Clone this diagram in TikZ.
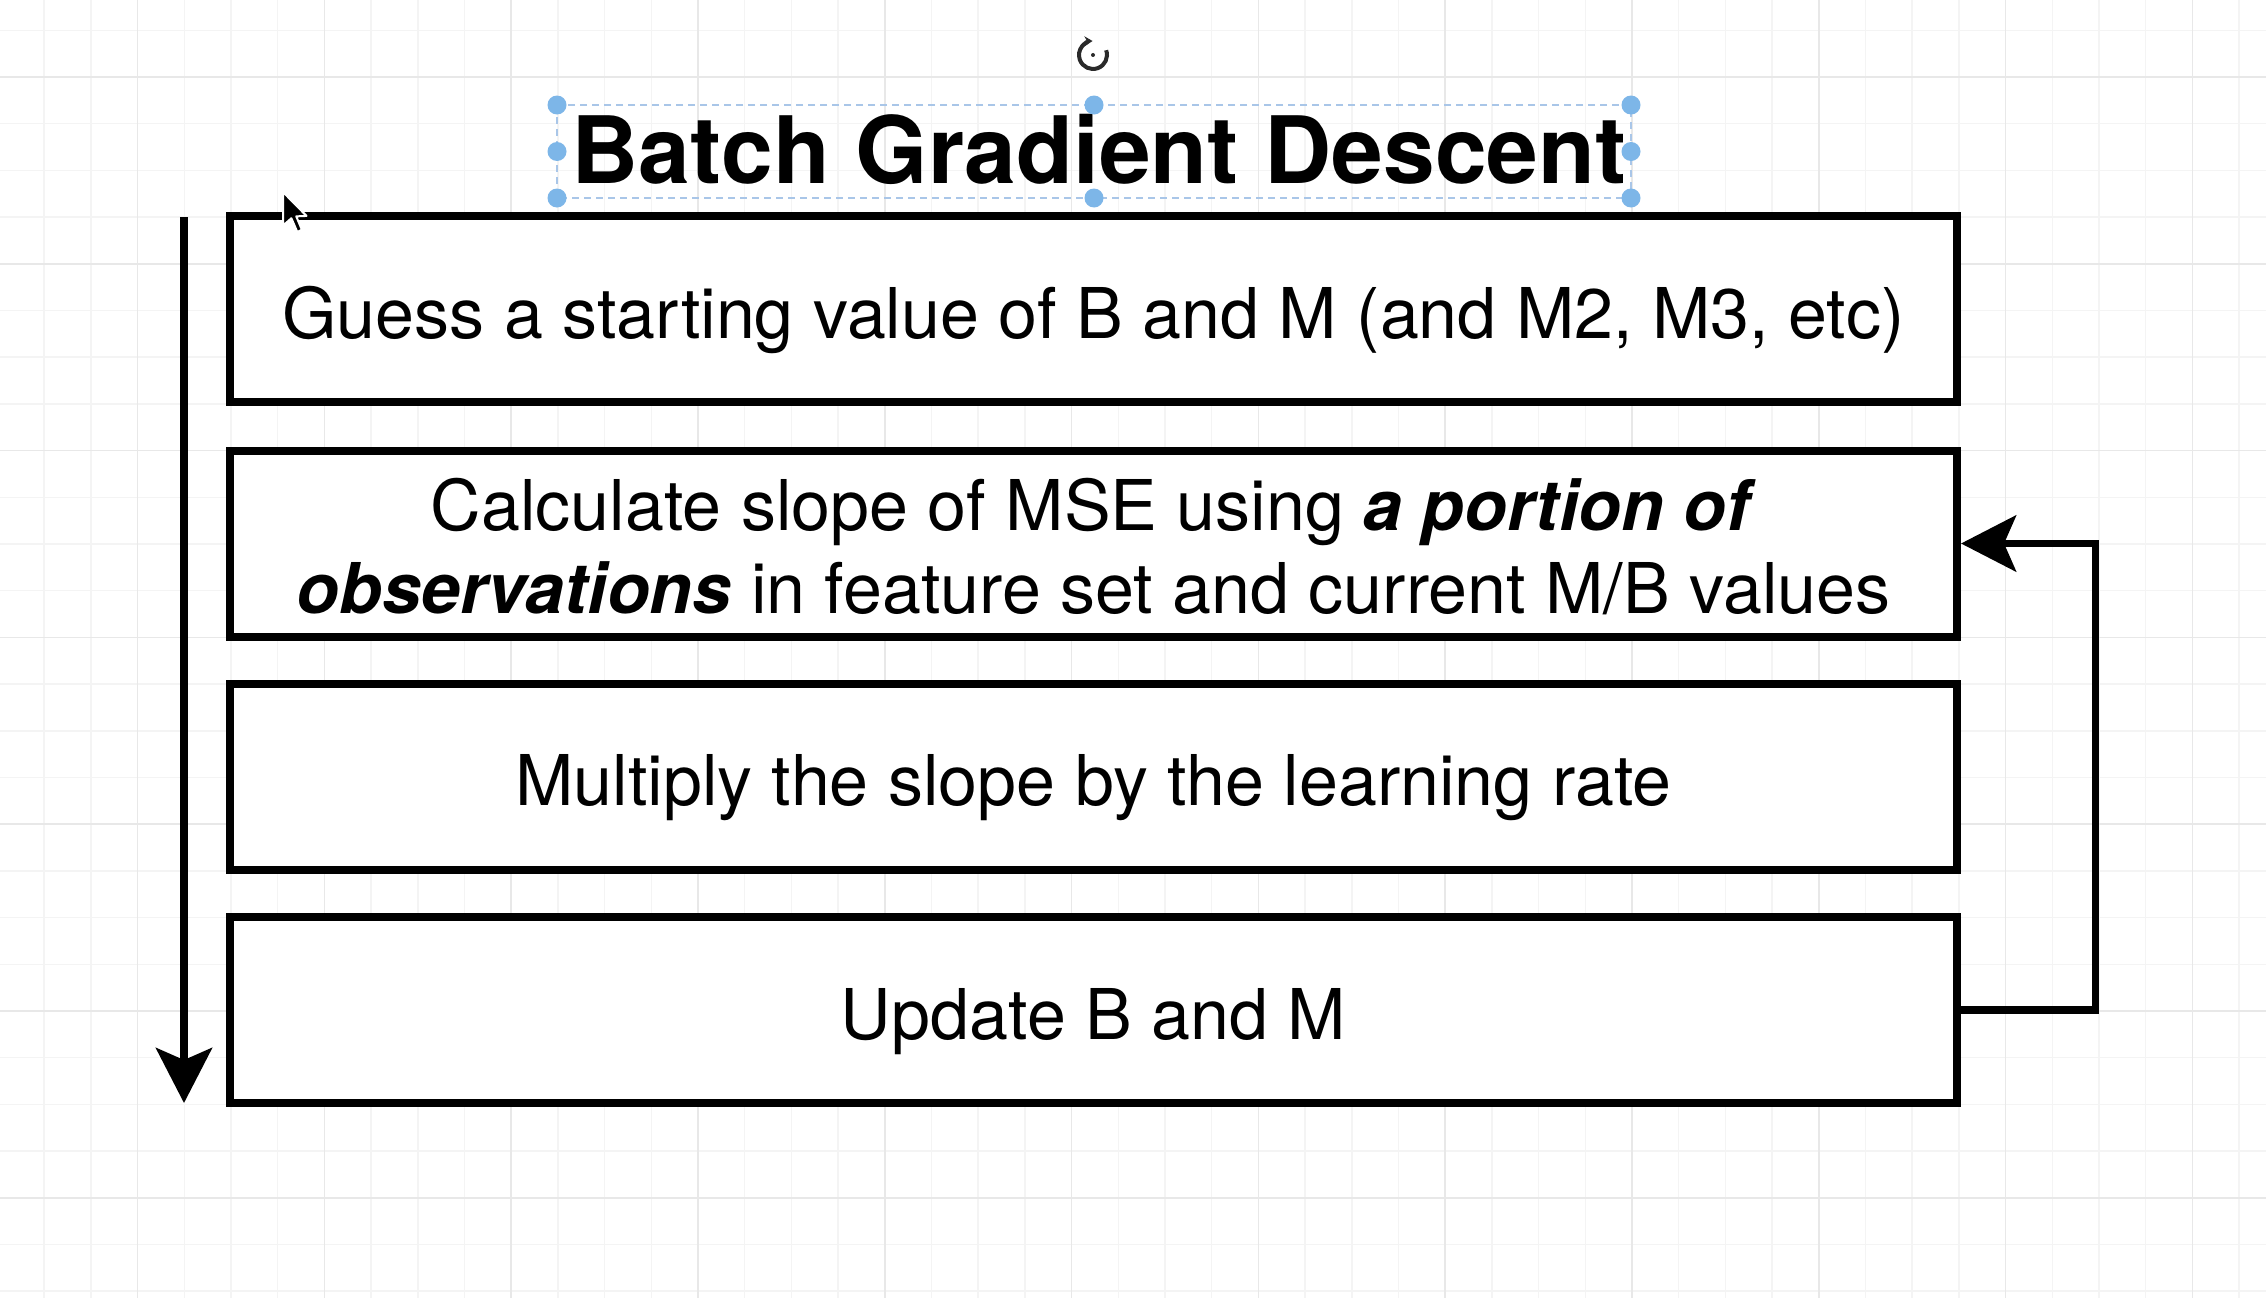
\documentclass[tikz,border=0pt]{standalone}
\usepackage{fontspec}
\setmainfont{TeX Gyre Heros}
\usetikzlibrary{arrows.meta}
\definecolor{minorg}{HTML}{F4F4F4}
\definecolor{majorg}{HTML}{E8E8E8}
\definecolor{selblue}{HTML}{A9C6E8}
\definecolor{handleblue}{HTML}{7DB6E8}
\definecolor{iconc}{HTML}{2A2A2A}
\tikzset{
  minorline/.style={draw=minorg, line width=1.5pt},
  majorline/.style={draw=majorg, line width=1.5pt},
  stepbox/.style={draw=black, fill=white, line width=8pt, line join=miter,
    minimum width=1727pt, minimum height=186pt, inner sep=0pt,
    text height=58pt, text depth=0pt, align=center,
    font=\fontsize{70pt}{83pt}\selectfont},
  conn/.style={draw=black, line width=7.5pt, line join=miter,
    -{Stealth[length=55pt, width=56pt, inset=12pt]}},
  selbox/.style={draw=selblue, line width=2.5pt, dash pattern=on 7pt off 5pt},
  handle/.style={fill=handleblue},
  titlestyle/.style={font=\fontsize{93pt}{100pt}\selectfont\bfseries, inner sep=0pt}
}
\begin{document}
\begin{tikzpicture}[x=1pt, y=-1pt]
  \useasboundingbox (0,0) rectangle (2266,1298);
  \fill[white] (0,0) rectangle (2266,1298);
  % grid
  \foreach \i in {-2,...,45} {
    \pgfmathsetmacro\xx{137.6+46.7*\i}
    \draw[minorline] (\xx,0) -- (\xx,1298);
  }
  \foreach \j in {-1,...,26} {
    \pgfmathsetmacro\yy{77+46.7*\j}
    \draw[minorline] (0,\yy) -- (2266,\yy);
  }
  \foreach \i in {0,...,11} {
    \pgfmathsetmacro\xx{137.6+186.8*\i}
    \draw[majorline] (\xx,0) -- (\xx,1298);
  }
  \foreach \j in {0,...,6} {
    \pgfmathsetmacro\yy{77+186.8*\j}
    \draw[majorline] (0,\yy) -- (2266,\yy);
  }

  % title
  \node[titlestyle, anchor=base] (title) at (1099,183) {Batch Gradient Descent};

  % steps
  \node[stepbox] (b1) at (1093.5,309) {Guess a starting value of B and M (and M2, M3, etc)};
  \node[stepbox, text height=141pt, text depth=2pt] (b2) at (1093.5,543.5)
    {Calculate slope of MSE using \textbf{\textit{a portion of}}\\
     \textbf{\textit{observations}} in feature set and current M/B values};
  \node[stepbox] (b3) at (1093.5,776.5) {Multiply the slope by the learning rate};
  \node[stepbox] (b4) at (1093.5,1010) {Update B and M};

  % left downward arrow
  \coordinate (lstart) at (184,217);
  \coordinate (lend) at (184,1103);
  \draw[conn] (lstart) -- (lend);

  % feedback loop
  \draw[conn] (b4.east) -- ++(134.5,0) |- (b2.east);

  % selection frame of the title
  \draw[selbox] (557,105) rectangle (1631,198);
  \foreach \p in {(557,105),(1094,105),(1631,105),(557,151.5),(1631,151.5),(557,198),(1094,198),(1631,198)} {
    \fill[handle] \p circle[radius=9.5pt];
  }

  % rotate icon
  \draw[iconc, line width=4pt, -{Stealth[length=8pt, width=10pt]}]
    (1093,55) ++(-20:14) arc[start angle=-20, end angle=268, radius=14];
  \fill[iconc] (1093,55) circle[radius=2pt];

  % mouse cursor
  \begin{scope}[shift={(283,192)}, x=2.1pt, y=-2.1pt]
    \filldraw[fill=black, draw=white, line width=2pt, line join=round]
      (0,0) -- (0,16) -- (4,12.5) -- (6.8,19) -- (9,18) -- (6.3,11.6) -- (11.2,11.4) -- cycle;
  \end{scope}
\end{tikzpicture}
\end{document}
